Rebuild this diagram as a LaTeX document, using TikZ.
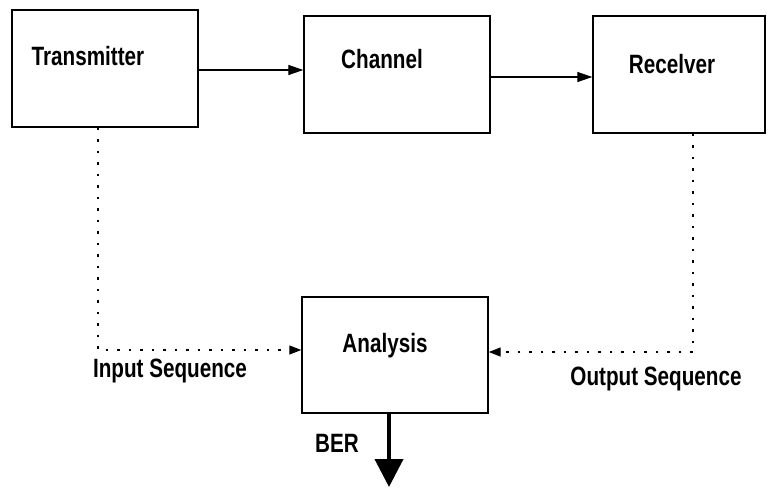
\documentclass[tikz,border=0pt]{standalone}
\usepackage{fontspec}
\setmainfont{Liberation Sans}[BoldFont={Liberation Sans Bold},BoldFeatures={FakeStretch=0.78}]
\usetikzlibrary{arrows.meta}
\begin{document}
\begin{tikzpicture}[x=1pt,y=-1pt,
  box/.style={draw,line width=1.4pt,inner sep=0pt},
  lab/.style={anchor=base,inner sep=0pt,font=\fontsize{26.5}{28}\selectfont\bfseries},
  flow/.style={line width=1.3pt,-{Triangle[length=15pt,width=10pt]}},
  dots/.style={line width=1.3pt,dash pattern=on 2.5pt off 9pt,-{Triangle[length=12pt,width=9pt]}},
  big/.style={line width=4pt,-{Triangle[length=28pt,width=28pt]}}]
\useasboundingbox (0,0) rectangle (768,488);
\node[box,minimum width=186pt,minimum height=117pt] (tx) at (105,68.5) {};
\node[box,minimum width=186pt,minimum height=117pt] (ch) at (397,74.5) {};
\node[box,minimum width=172pt,minimum height=117pt] (rx) at (679,74.5) {};
\node[box,minimum width=186pt,minimum height=116pt] (an) at (395,355) {};
\node[lab] (txl) at (88,65) {Transmitter};
\node[lab] (chl) at (382,68) {Channel};
\node[lab] (rxl) at (672,73) {Recelver};
\node[lab] (anl) at (385,352) {Analysis};
\node[lab] (inl) at (170,377) {Input Sequence};
\node[lab] (outl) at (656,385) {Output Sequence};
\node[lab] (berl) at (337,452) {BER};
\coordinate (berend) at (389,487);
\draw[flow] (tx.east |- 0,70) -- (ch.west |- 0,70);
\draw[flow] (ch.east |- 0,77) -- (rx.west |- 0,77);
\draw[dots] ([xshift=-7pt]tx.south) |- ([yshift=5pt]an.west);
\draw[dots] ([xshift=14pt]rx.south) |- ([yshift=3pt]an.east);
\draw[big] (an.south -| berend) -- (berend);
\end{tikzpicture}
\end{document}
